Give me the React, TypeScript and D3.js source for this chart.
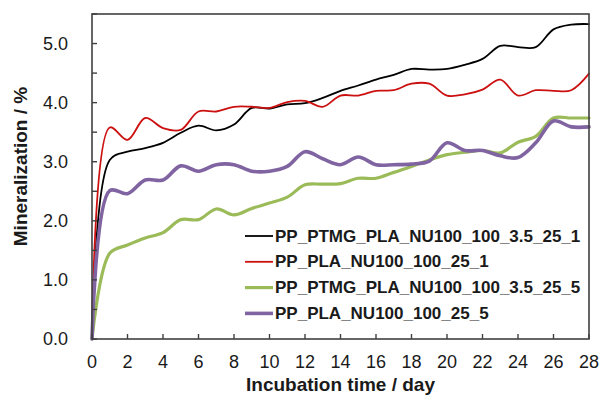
import * as d3 from 'd3';

// Incubation days 0..28
const days = d3.range(0, 29);

const ptmg1 = [
  0, 3.03, 3.17, 3.23, 3.32, 3.49, 3.61, 3.53, 3.63, 3.91, 3.9, 3.97, 3.99, 4.08,
  4.2, 4.29, 4.39, 4.47, 4.57, 4.56, 4.57, 4.64, 4.74, 4.96, 4.94, 4.94, 5.24,
  5.32, 5.33,
];
const pla1 = [
  0, 3.58, 3.37, 3.74, 3.57, 3.54, 3.85, 3.85, 3.93, 3.93, 3.91, 4.01, 4.03,
  3.93, 4.12, 4.12, 4.2, 4.21, 4.32, 4.32, 4.12, 4.14, 4.22, 4.39, 4.12, 4.21,
  4.2, 4.21, 4.49,
];
const ptmg5 = [
  0, 1.45, 1.59, 1.71, 1.8, 2.02, 2.02, 2.2, 2.1, 2.21, 2.3, 2.4, 2.61, 2.62,
  2.63, 2.72, 2.72, 2.82, 2.92, 3.03, 3.12, 3.16, 3.19, 3.15, 3.33, 3.43, 3.74,
  3.74, 3.74,
];
const pla5 = [
  0, 2.51, 2.46, 2.69, 2.69, 2.93, 2.84, 2.95, 2.95, 2.84, 2.84, 2.92, 3.17,
  3.05, 2.95, 3.08, 2.95, 2.95, 2.96, 3.01, 3.32, 3.19, 3.19, 3.1, 3.07, 3.32,
  3.69, 3.59, 3.59,
];

const seriesNames = [
  'PP_PTMG_PLA_NU100_100_3.5_25_1',
  'PP_PLA_NU100_100_25_1',
  'PP_PTMG_PLA_NU100_100_3.5_25_5',
  'PP_PLA_NU100_100_25_5',
];
const seriesValues = [ptmg1, pla1, ptmg5, pla5];
const seriesColors = ['#000000', '#cc1010', '#9bbb59', '#8064a2'];
const seriesWidths = [1.8, 1.8, 3.2, 3.6];

const yTicks = d3.range(0, 5.51, 0.5);
const xTicks = d3.range(0, 29, 2);

export default function App() {
  const width = 600;
  const height = 396;
  const left = 92;
  const right = 589;
  const top = 14;
  const bottom = 339;

  const x = d3.scaleLinear([0, 28], [left, right]);
  const y = d3.scaleLinear([0, 5.5], [bottom, top]);

  const line = d3
    .line<number>()
    .x((_, i) => x(days[i]))
    .y((d) => y(d))
    .curve(d3.curveCatmullRom.alpha(0.5));

  const axisColor = '#404040';
  const font = "'Liberation Sans', Arial, sans-serif";

  return (
    <svg
      width={width}
      height={height}
      style={{ position: 'absolute', left: 0, top: 0, background: '#fff' }}
      fontFamily={font}
    >
      {/* series */}
      {seriesValues.map((vals, i) => (
        <path
          key={i}
          d={line(vals) ?? ''}
          fill='none'
          stroke={seriesColors[i]}
          strokeWidth={seriesWidths[i]}
          strokeLinejoin='round'
          strokeLinecap='round'
        />
      ))}

      {/* frame */}
      <rect
        x={left}
        y={top}
        width={right - left}
        height={bottom - top}
        fill='none'
        stroke={axisColor}
        strokeWidth={1.6}
      />

      {/* y ticks */}
      {yTicks.map((t) => (
        <line
          key={t}
          x1={left}
          x2={left + 5}
          y1={y(t)}
          y2={y(t)}
          stroke={axisColor}
          strokeWidth={1.4}
        />
      ))}
      {yTicks
        .filter((t) => Math.abs(t - Math.round(t)) < 1e-6)
        .map((t) => (
          <text
            key={t}
            x={68}
            y={y(t)}
            textAnchor='end'
            dominantBaseline='central'
            fontSize={18}
            fill='#1a1a1a'
          >
            {t.toFixed(1)}
          </text>
        ))}

      {/* x ticks */}
      {xTicks.map((t) => (
        <line
          key={t}
          x1={x(t)}
          x2={x(t)}
          y1={bottom}
          y2={bottom - 5}
          stroke={axisColor}
          strokeWidth={1.4}
        />
      ))}
      {xTicks.map((t) => (
        <text
          key={t}
          x={x(t)}
          y={362}
          textAnchor='middle'
          dominantBaseline='central'
          fontSize={18}
          fill='#1a1a1a'
        >
          {t}
        </text>
      ))}

      {/* axis titles */}
      <text
        x={(left + right) / 2}
        y={391}
        textAnchor='middle'
        fontSize={19}
        fontWeight='bold'
        fill='#1a1a1a'
      >
        Incubation time / day
      </text>
      <text
        transform={`translate(20,${(top + bottom) / 2 - 10}) rotate(-90)`}
        textAnchor='middle'
        dominantBaseline='central'
        fontSize={19}
        fontWeight='bold'
        fill='#1a1a1a'
      >
        Mineralization / %
      </text>

      {/* legend */}
      {seriesNames.map((name, i) => {
        const ly = 236 + i * 25.8;
        return (
          <g key={name}>
            <line
              x1={245}
              x2={273}
              y1={ly}
              y2={ly}
              stroke={seriesColors[i]}
              strokeWidth={seriesWidths[i]}
            />
            <text
              x={275}
              y={ly}
              dominantBaseline='central'
              fontSize={17}
              fontWeight='bold'
              fill='#1a1a1a'
            >
              {name}
            </text>
          </g>
        );
      })}
    </svg>
  );
}
